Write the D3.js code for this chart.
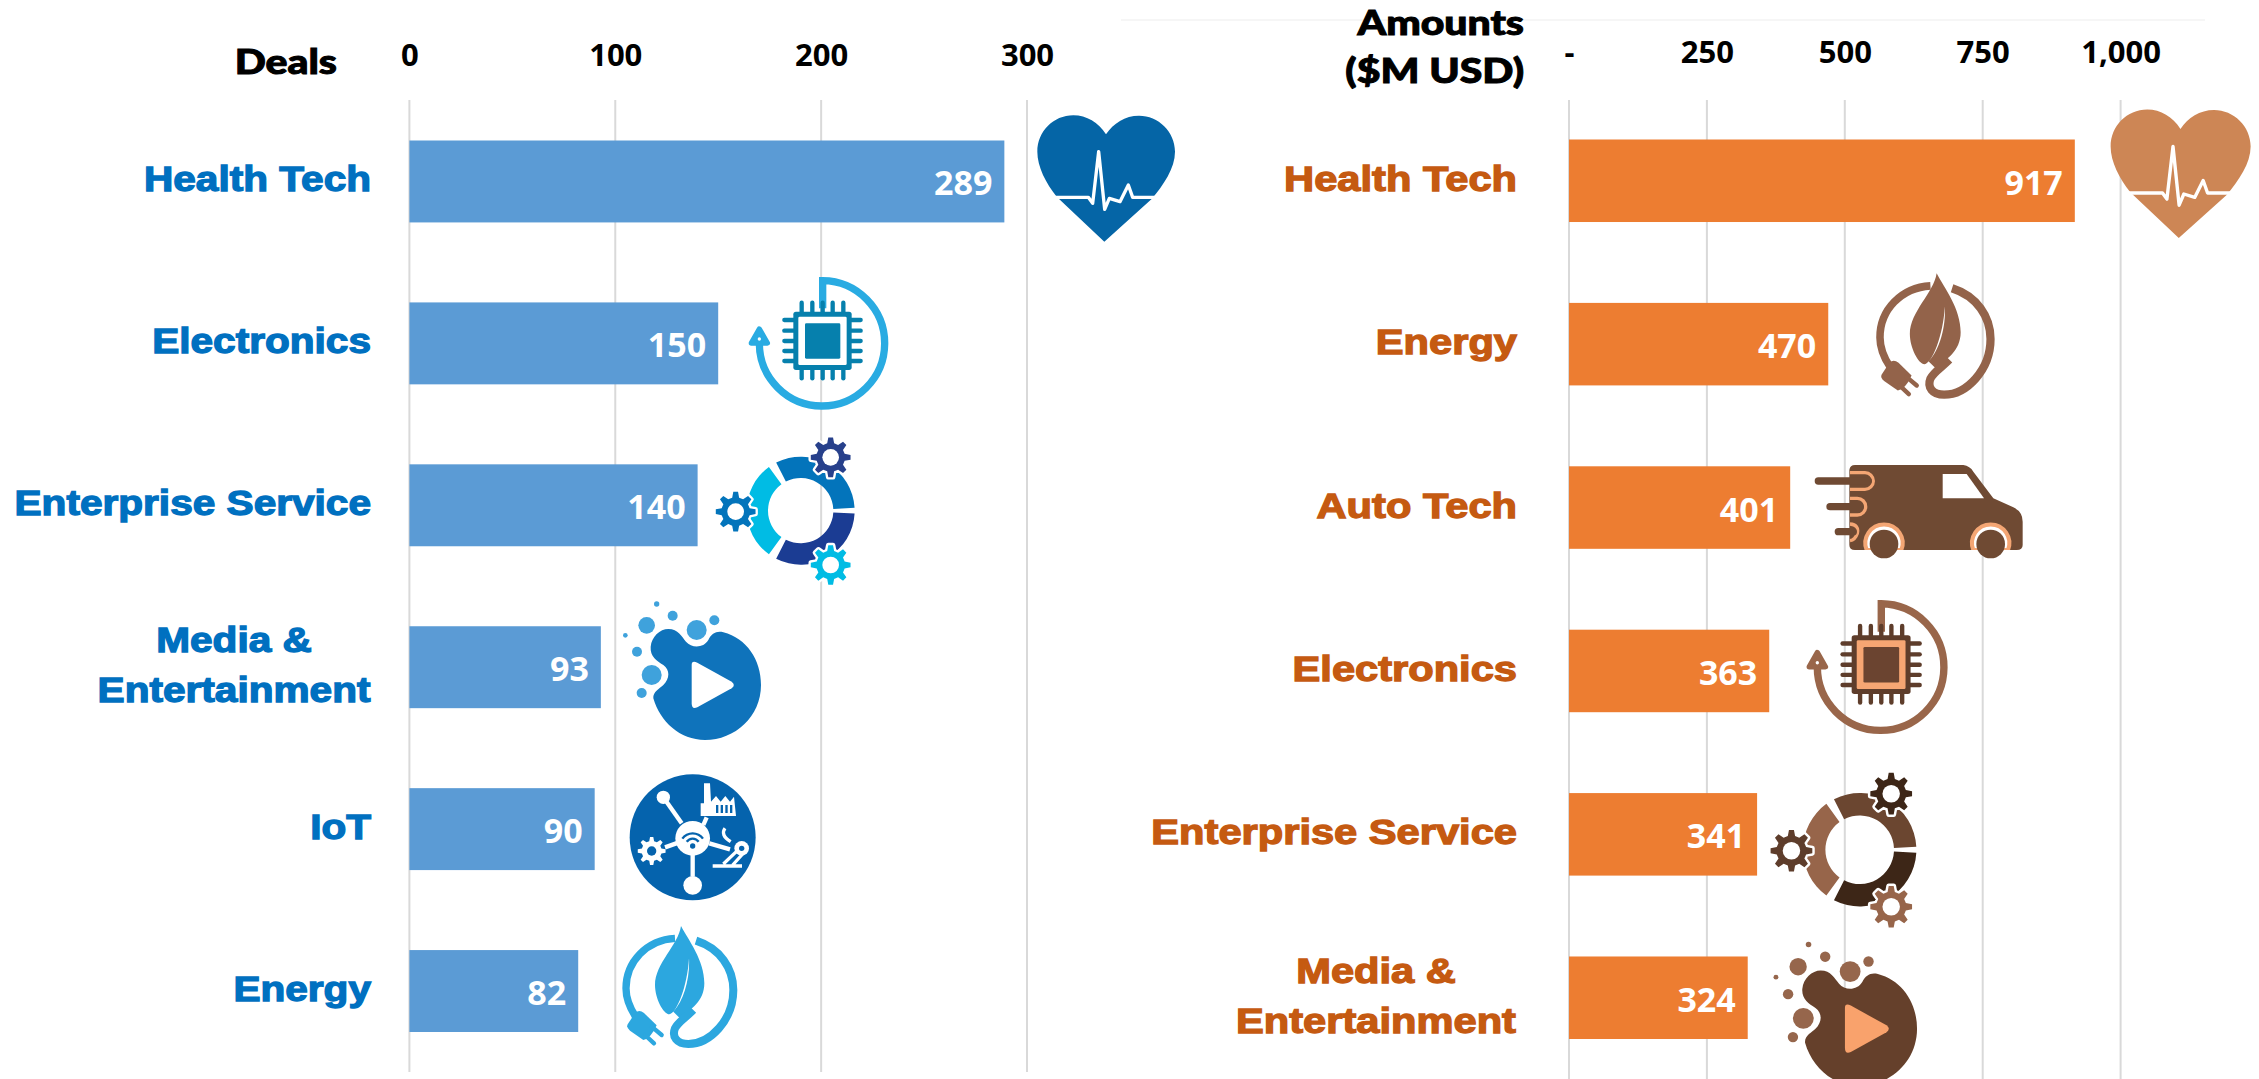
<!DOCTYPE html>
<html>
<head>
<meta charset="utf-8">
<script src="https://cdn.jsdelivr.net/npm/d3@7"></script>
<style>
  html, body { margin: 0; padding: 0; background: #fff; overflow: hidden; }
  svg { display: block; }
</style>
</head>
<body>
<div id="chart"></div>
<script>
// data
const dealCategories = ["Health Tech", "Electronics", "Enterprise Service", "Media & Entertainment", "IoT", "Energy"];
const dealValues = [289, 150, 140, 93, 90, 82];
const dealTicks = [0, 100, 200, 300];

const amountCategories = ["Health Tech", "Energy", "Auto Tech", "Electronics", "Enterprise Service", "Media & Entertainment"];
const amountValues = [917, 470, 401, 363, 341, 324];
const amountTicks = [0, 250, 500, 750, 1000];

const w = 2259;
const h = 1079;

const blues = {
  heart: "#0565a6", ring: "#29abe2", chip: "#0680ad", frame: "#fff", core: "#0680ad",
  seg1: "#0374bb", seg2: "#1b3c93", seg3: "#00bce4", gear1: "#27408b", gear2: "#0374bb", gear3: "#00bce4",
  body: "#0f73bb", bubble: "#3fa2dc", play: "#fff", iot: "#0563ad", leaf: "#2ca7df"
};
const browns = {
  heart: "#cd8655", ring: "#99664a", chip: "#5e3d2b", frame: "#f6a673", core: "#6b4430",
  seg1: "#6b4630", seg2: "#3d2617", seg3: "#97654a", gear1: "#3d2617", gear2: "#5e3d2b", gear3: "#97654a",
  body: "#65402b", bubble: "#96664c", play: "#f9a26c", leaf: "#93634a", van: "#6f4a33", glow: "#f4a674"
};

const svg = d3.select("#chart").append("svg")
  .attr("width", w)
  .attr("height", h)
  .style("background", "#fff");

// faint line left over at the top of the right panel
svg.append("line")
  .attr("x1", 1121).attr("x2", 2205).attr("y1", 20).attr("y2", 20)
  .attr("stroke", "#f6f6f6").attr("stroke-width", 2);

// icons are drawn in a 3x local grid, then scaled down
function gearPath(cx, cy, r) {
  const teeth = 8;
  const pts = [];
  d3.range(teeth).forEach(i => {
    const a = i * 2 * Math.PI / teeth - Math.PI / 2;
    const da = Math.PI / teeth;
    [[0.72, -0.62], [1, -0.3], [1, 0.3], [0.72, 0.62]].forEach(p => {
      const t = a + p[1] * da;
      pts.push([cx + r * p[0] * Math.cos(t), cy + r * p[0] * Math.sin(t)]);
    });
  });
  return "M" + pts.map(p => p.map(v => v.toFixed(1)).join(",")).join("L") + "Z";
}

function drawHeart(g, c) {
  g.append("path")
    .attr("d", "M258,103 C235,68 200,46 160,46 C100,46 52,95 52,155 C52,200 78,250 110,290 L253,425 L395,297 C430,255 465,205 465,155 C465,95 415,47 357,47 C315,47 280,70 258,103 Z")
    .attr("fill", c.heart);
  g.append("path")
    .attr("d", "M100,292 L205,292 L218,310 L236,155 L254,328 L268,295 L300,305 L325,255 L338,292 L418,292")
    .attr("fill", "none").attr("stroke", "#fff").attr("stroke-width", 10).attr("stroke-linejoin", "round");
}

function drawChip(g, c) {
  g.append("path")
    .attr("d", "M278,130 L278,47 A188,188 0 1 1 88,235")
    .attr("fill", "none").attr("stroke", c.ring).attr("stroke-width", 22);
  g.append("path")
    .attr("d", "M88,192 L112,234 L64,234 Z")
    .attr("fill", c.ring).attr("stroke", c.ring).attr("stroke-width", 16).attr("stroke-linejoin", "round");
  g.append("circle").attr("cx", 88).attr("cy", 222).attr("r", 5).attr("fill", "#fff");
  [215, 247, 278, 308, 340].forEach(x => {
    g.append("line").attr("x1", x).attr("x2", x).attr("y1", 113).attr("y2", 340)
      .attr("stroke", c.chip).attr("stroke-width", 13).attr("stroke-linecap", "round");
  });
  [165, 197, 228, 258, 288].forEach(y => {
    g.append("line").attr("x1", 163).attr("x2", 392).attr("y1", y).attr("y2", y)
      .attr("stroke", c.chip).attr("stroke-width", 13).attr("stroke-linecap", "round");
  });
  g.append("rect").attr("x", 190).attr("y", 140).attr("width", 175).attr("height", 175).attr("rx", 8).attr("fill", c.chip);
  g.append("rect").attr("x", 205).attr("y", 155).attr("width", 145).attr("height", 145).attr("rx", 4).attr("fill", c.frame);
  g.append("rect").attr("x", 225).attr("y", 175).attr("width", 106).attr("height", 106).attr("rx", 4).attr("fill", c.core);
}

function drawGears(g, c) {
  const arc = d3.arc().innerRadius(98).outerRadius(162);
  const deg = Math.PI / 180;
  const ring = g.append("g").attr("transform", "translate(302,242)");
  ring.append("path").attr("d", arc({ startAngle: -27 * deg, endAngle: 87 * deg })).attr("fill", c.seg1);
  ring.append("path").attr("d", arc({ startAngle: 93 * deg, endAngle: 207 * deg })).attr("fill", c.seg2);
  ring.append("path").attr("d", arc({ startAngle: 216 * deg, endAngle: 324 * deg })).attr("fill", c.seg3);
  [[392, 82, c.gear1], [107, 245, c.gear2], [392, 405, c.gear3]].forEach(d => {
    g.append("path").attr("d", gearPath(d[0], d[1], 60))
      .attr("fill", "#fff").attr("stroke", "#fff").attr("stroke-width", 14).attr("stroke-linejoin", "round");
    g.append("path").attr("d", gearPath(d[0], d[1], 60)).attr("fill", d[2]);
    g.append("circle").attr("cx", d[0]).attr("cy", d[1]).attr("r", 25).attr("fill", "#fff");
  });
}

function drawPlay(g, c) {
  [[110, 106, 25], [188, 77, 15], [260, 120, 30], [313, 91, 15], [140, 42, 8], [46, 136, 7], [81, 185, 15], [125, 255, 30], [95, 309, 15]].forEach(d => {
    g.append("circle").attr("cx", d[0]).attr("cy", d[1]).attr("r", d[2]).attr("fill", c.bubble);
  });
  g.append("path")
    .attr("d", "M175,117 C205,117 215,140 228,155 C245,175 280,175 295,150 C305,130 320,122 340,127 C410,145 453,210 453,285 C453,380 375,450 285,450 C210,450 150,395 130,325 C128,305 150,295 160,285 C180,265 180,240 160,225 C140,212 120,200 122,170 C125,140 150,117 175,117 Z")
    .attr("fill", c.body);
  g.append("path")
    .attr("d", "M245,225 Q245,210 262,218 L365,275 Q378,285 365,295 L262,352 Q245,360 245,340 Z")
    .attr("fill", c.play);
}

function drawIot(g, c) {
  const white = "#fff";
  g.append("circle").attr("cx", 248).attr("cy", 232).attr("r", 189).attr("fill", c.iot);
  [[160, 112, 215, 190], [248, 280, 248, 350], [165, 262, 205, 248], [298, 250, 360, 268], [290, 172, 280, 195]].forEach(d => {
    g.append("line").attr("x1", d[0]).attr("y1", d[1]).attr("x2", d[2]).attr("y2", d[3])
      .attr("stroke", white).attr("stroke-width", 13);
  });
  g.append("circle").attr("cx", 160).attr("cy", 112).attr("r", 20).attr("fill", white);
  g.append("circle").attr("cx", 248).attr("cy", 376).attr("r", 28).attr("fill", white);
  g.append("circle").attr("cx", 248).attr("cy", 235).attr("r", 52).attr("fill", white);
  g.append("circle").attr("cx", 248).attr("cy", 258).attr("r", 8).attr("fill", c.iot);
  [22, 38].forEach(r => {
    const a = d3.arc().innerRadius(r - 3.5).outerRadius(r + 3.5).startAngle(-0.95).endAngle(0.95);
    g.append("path").attr("transform", "translate(248,258)").attr("d", a()).attr("fill", c.iot);
  });
  g.append("path").attr("d", gearPath(125, 273, 42)).attr("fill", white);
  g.append("circle").attr("cx", 125).attr("cy", 273).attr("r", 14).attr("fill", c.iot);
  // factory
  g.append("path")
    .attr("d", "M282,70 L300,70 L303,125 L318,108 L332,125 L346,108 L360,125 L372,110 L378,168 L272,168 L272,130 L282,130 Z")
    .attr("fill", white);
  [318, 332, 346, 360].forEach(x => {
    g.append("rect").attr("x", x).attr("y", 135).attr("width", 7).attr("height", 24).attr("fill", c.iot);
  });
  // robot arm
  g.append("path").attr("d", "M308,318 L396,318 M340,312 L382,272 M368,315 L398,282 M345,205 Q330,225 362,245")
    .attr("fill", "none").attr("stroke", white).attr("stroke-width", 10);
  g.append("circle").attr("cx", 395).attr("cy", 265).attr("r", 22).attr("fill", white);
  g.append("circle").attr("cx", 395).attr("cy", 265).attr("r", 8).attr("fill", c.iot);
}

function drawLeaf(g, c) {
  g.append("path")
    .attr("d", "M213,18 C205,75 135,130 135,195 C135,235 160,283 178,283 C200,280 232,200 237,115 C240,175 222,240 190,275 L210,295 C240,270 283,245 283,190 C283,120 235,60 213,18 Z")
    .attr("fill", c.leaf);
  g.append("path")
    .attr("d", "M195,55 C110,60 48,125 48,205 C48,240 60,265 78,292")
    .attr("fill", "none").attr("stroke", c.leaf).attr("stroke-width", 22);
  g.append("path")
    .attr("d", "M258,62 C330,85 370,145 370,210 C370,300 300,372 235,372 C200,372 185,350 195,325 C205,305 225,295 250,270")
    .attr("fill", "none").attr("stroke", c.leaf).attr("stroke-width", 24);
  g.append("path")
    .attr("d", "M53,313 L76,278 Q88,268 102,279 L140,316 Q122,356 100,360 L60,332 Q48,322 53,313 Z")
    .attr("fill", c.leaf);
  g.append("path").attr("d", "M125,320 L155,345 M105,345 L132,370")
    .attr("fill", "none").attr("stroke", c.leaf).attr("stroke-width", 13).attr("stroke-linecap", "round");
}

function drawVan(g, c) {
  g.append("path")
    .attr("d", "M165,45 L490,45 Q510,48 520,65 L580,145 L640,172 Q668,185 668,215 L668,285 Q668,300 650,300 L165,300 Q148,300 148,285 L148,60 Q150,45 165,45 Z")
    .attr("fill", c.van);
  g.append("path").attr("d", "M428,72 L500,72 L552,145 L428,145 Z").attr("fill", "#fff");
  g.append("path")
    .attr("d", "M150,68 L195,68 A25,25 0 0 1 195,118 L150,118 M150,145 L172,145 A25,25 0 0 1 172,195 L150,195 M150,222 Q178,224 172,250 Q165,270 150,272")
    .attr("fill", "none").attr("stroke", c.glow).attr("stroke-width", 10);
  [[55, 205, 93], [90, 180, 170], [115, 160, 245]].forEach(d => {
    g.append("line").attr("x1", d[0]).attr("x2", d[1]).attr("y1", d[2]).attr("y2", d[2])
      .attr("stroke", c.van).attr("stroke-width", 22).attr("stroke-linecap", "round");
  });
  [252, 572].forEach(x => {
    g.append("path").attr("d", `M${x - 52},300 A56,56 0 1 1 ${x + 52},300 Z`)
      .attr("fill", "#fff").attr("stroke", c.glow).attr("stroke-width", 12);
    g.append("rect").attr("x", x - 70).attr("y", 300).attr("width", 140).attr("height", 8).attr("fill", "#fff");
    g.append("circle").attr("cx", x).attr("cy", 282).attr("r", 43).attr("fill", c.van);
  });
}

const iconDraw = {
  "Health Tech": drawHeart,
  "Electronics": drawChip,
  "Enterprise Service": drawGears,
  "Media & Entertainment": drawPlay,
  "IoT": drawIot,
  "Energy": drawLeaf,
  "Auto Tech": drawVan
};

function drawPanel(opt) {
  const x = d3.scaleLinear().domain(opt.domain).range(opt.xRange);
  const y = d3.scaleBand().domain(opt.categories).range(opt.yRange).paddingInner(opt.pad).paddingOuter(0);
  const panel = svg.append("g");

  // grid
  panel.selectAll(".grid")
    .data(opt.ticks)
    .enter()
    .append("line")
    .attr("x1", d => x(d)).attr("x2", d => x(d))
    .attr("y1", 100).attr("y2", opt.gridBottom)
    .attr("stroke", "#d9d9d9").attr("stroke-width", 2);

  // tick labels through the axis
  const axis = d3.axisTop(x).tickValues(opt.ticks).tickSize(0).tickPadding(0).tickFormat(opt.tickFormat);
  const axisG = panel.append("g").attr("transform", `translate(0,${opt.tickY})`).call(axis);
  axisG.select(".domain").remove();
  axisG.selectAll("text")
    .attr("fill", "#000")
    .style("font-family", "'Open Sans', sans-serif")
    .style("font-weight", 700)
    .style("font-size", "31px");

  // bars
  panel.selectAll(".bar")
    .data(opt.values)
    .enter()
    .append("rect")
    .attr("x", x(0))
    .attr("y", (d, i) => y(opt.categories[i]))
    .attr("width", d => x(d) - x(0))
    .attr("height", y.bandwidth())
    .attr("fill", opt.barColor);

  panel.selectAll(".val")
    .data(opt.values)
    .enter()
    .append("text")
    .attr("x", d => x(d) - 12)
    .attr("y", (d, i) => y(opt.categories[i]) + y.bandwidth() / 2 + 14)
    .attr("text-anchor", "end")
    .attr("fill", "#fff")
    .style("font-family", "'Open Sans', sans-serif")
    .style("font-weight", 700)
    .style("font-size", "34px")
    .text(d => d);

  // category labels, stretched like the picture
  opt.categories.forEach(cat => {
    const cy = y(cat) + y.bandwidth() / 2;
    const style = t => t
      .attr("fill", opt.labelColor)
      .attr("stroke", opt.labelColor)
      .attr("stroke-width", 1.3)
      .style("font-family", "'Liberation Sans', Arial, sans-serif")
      .style("font-weight", 700)
      .style("font-size", "35px");
    if (cat === "Media & Entertainment") {
      const lab = panel.append("g").attr("transform", `translate(${opt.labelX},0) scale(${opt.labelStretch},1)`);
      const mid = -opt.blockHalf / opt.labelStretch;
      style(lab.append("text").attr("x", mid).attr("y", cy - 15).attr("text-anchor", "middle").text("Media &"));
      style(lab.append("text").attr("x", mid).attr("y", cy + 35).attr("text-anchor", "middle").text("Entertainment"));
    } else {
      const lab = panel.append("g").attr("transform", `translate(${opt.labelX},${cy + 10}) scale(${opt.labelStretch},1)`);
      style(lab.append("text").attr("text-anchor", "end").text(cat));
    }
  });

  // icons
  opt.categories.forEach((cat, i) => {
    const s = opt.icons[i];
    const g = panel.append("g").attr("transform", `translate(${s[0]},${s[1]}) scale(${s[2] / 3})`);
    iconDraw[cat](g, opt.palette);
  });
}

drawPanel({
  categories: dealCategories,
  values: dealValues,
  ticks: dealTicks,
  domain: [0, 300],
  xRange: [409.4, 1027],
  yRange: [140.5, 1032],
  pad: 0.494,
  gridBottom: 1072,
  tickY: 66,
  tickFormat: d3.format("d"),
  barColor: "#5b9bd5",
  labelColor: "#0070c0",
  labelX: 371,
  labelStretch: 1.16,
  blockHalf: 137,
  palette: blues,
  icons: [[1020, 100, 1], [730, 265, 1], [700, 430, 1], [610, 590, 1], [610, 760, 1], [610, 920, 1]]
});

drawPanel({
  categories: amountCategories,
  values: amountValues,
  ticks: amountTicks,
  domain: [0, 1000],
  xRange: [1569, 2120.6],
  yRange: [139.5, 1039],
  pad: 0.495,
  gridBottom: 1079,
  tickY: 63,
  tickFormat: d => d === 0 ? "-" : d3.format(",")(d),
  barColor: "#ed7d31",
  labelColor: "#c55a11",
  labelX: 1517,
  labelStretch: 1.19,
  blockHalf: 141,
  palette: browns,
  icons: [[2093, 94, 1.017], [1863.5, 267, 1.03], [1800, 450, 1], [1787.7, 588, 1.01], [1754, 765, 1.05], [1760, 930, 1.04]]
});

// axis titles, also stretched
function title(text, right, base) {
  svg.append("g")
    .attr("transform", `translate(${right},${base}) scale(1.17,1)`)
    .append("text")
    .attr("fill", "#000")
    .attr("stroke", "#000")
    .attr("stroke-width", 1)
    .attr("text-anchor", "end")
    .style("font-family", "Lato, sans-serif")
    .style("font-weight", 900)
    .style("font-size", "35px")
    .text(text);
}
title("Deals", 337, 74);
title("Amounts", 1524, 35);
title("($M USD)", 1524, 83);
</script>
</body>
</html>
